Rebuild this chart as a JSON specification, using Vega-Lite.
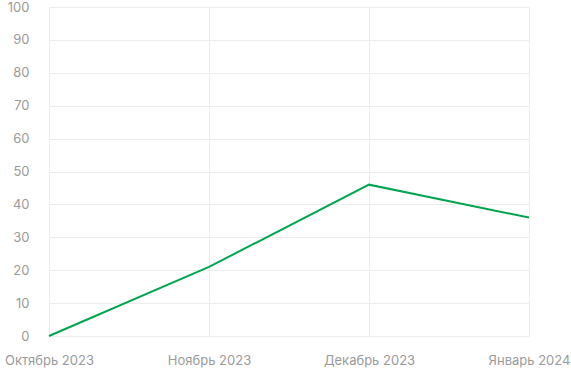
{
  "$schema": "https://vega.github.io/schema/vega-lite/v6.json",
  "width": 480,
  "height": 329,
  "autosize": {"type": "none"},
  "padding": {"left": 49, "top": 7, "right": 42, "bottom": 50},
  "background": "#ffffff",
  "config": {
    "view": {"stroke": null},
    "font": "Inter"
  },
  "data": {
    "values": [
      {"month": "Октябрь 2023", "value": 0},
      {"month": "Ноябрь 2023", "value": 21},
      {"month": "Декабрь 2023", "value": 46},
      {"month": "Январь 2024", "value": 36}
    ]
  },
  "mark": {"type": "line", "color": "#00a64f", "strokeWidth": 2},
  "encoding": {
    "x": {
      "field": "month",
      "type": "ordinal",
      "sort": null,
      "scale": {"type": "point", "padding": 0},
      "axis": {
        "title": null,
        "labelAngle": 0,
        "domain": false,
        "ticks": false,
        "grid": true,
        "gridColor": "#ececec",
        "labelColor": "#9a9a9a",
        "labelFontSize": 13,
        "labelPadding": 18,
        "labelFont": "Inter"
      }
    },
    "y": {
      "field": "value",
      "type": "quantitative",
      "scale": {"domain": [0, 100], "nice": false},
      "axis": {
        "title": null,
        "values": [0, 10, 20, 30, 40, 50, 60, 70, 80, 90, 100],
        "domain": false,
        "ticks": false,
        "gridColor": "#ececec",
        "labelColor": "#9a9a9a",
        "labelFontSize": 13,
        "labelPadding": 20,
        "labelFont": "Inter"
      }
    }
  }
}
